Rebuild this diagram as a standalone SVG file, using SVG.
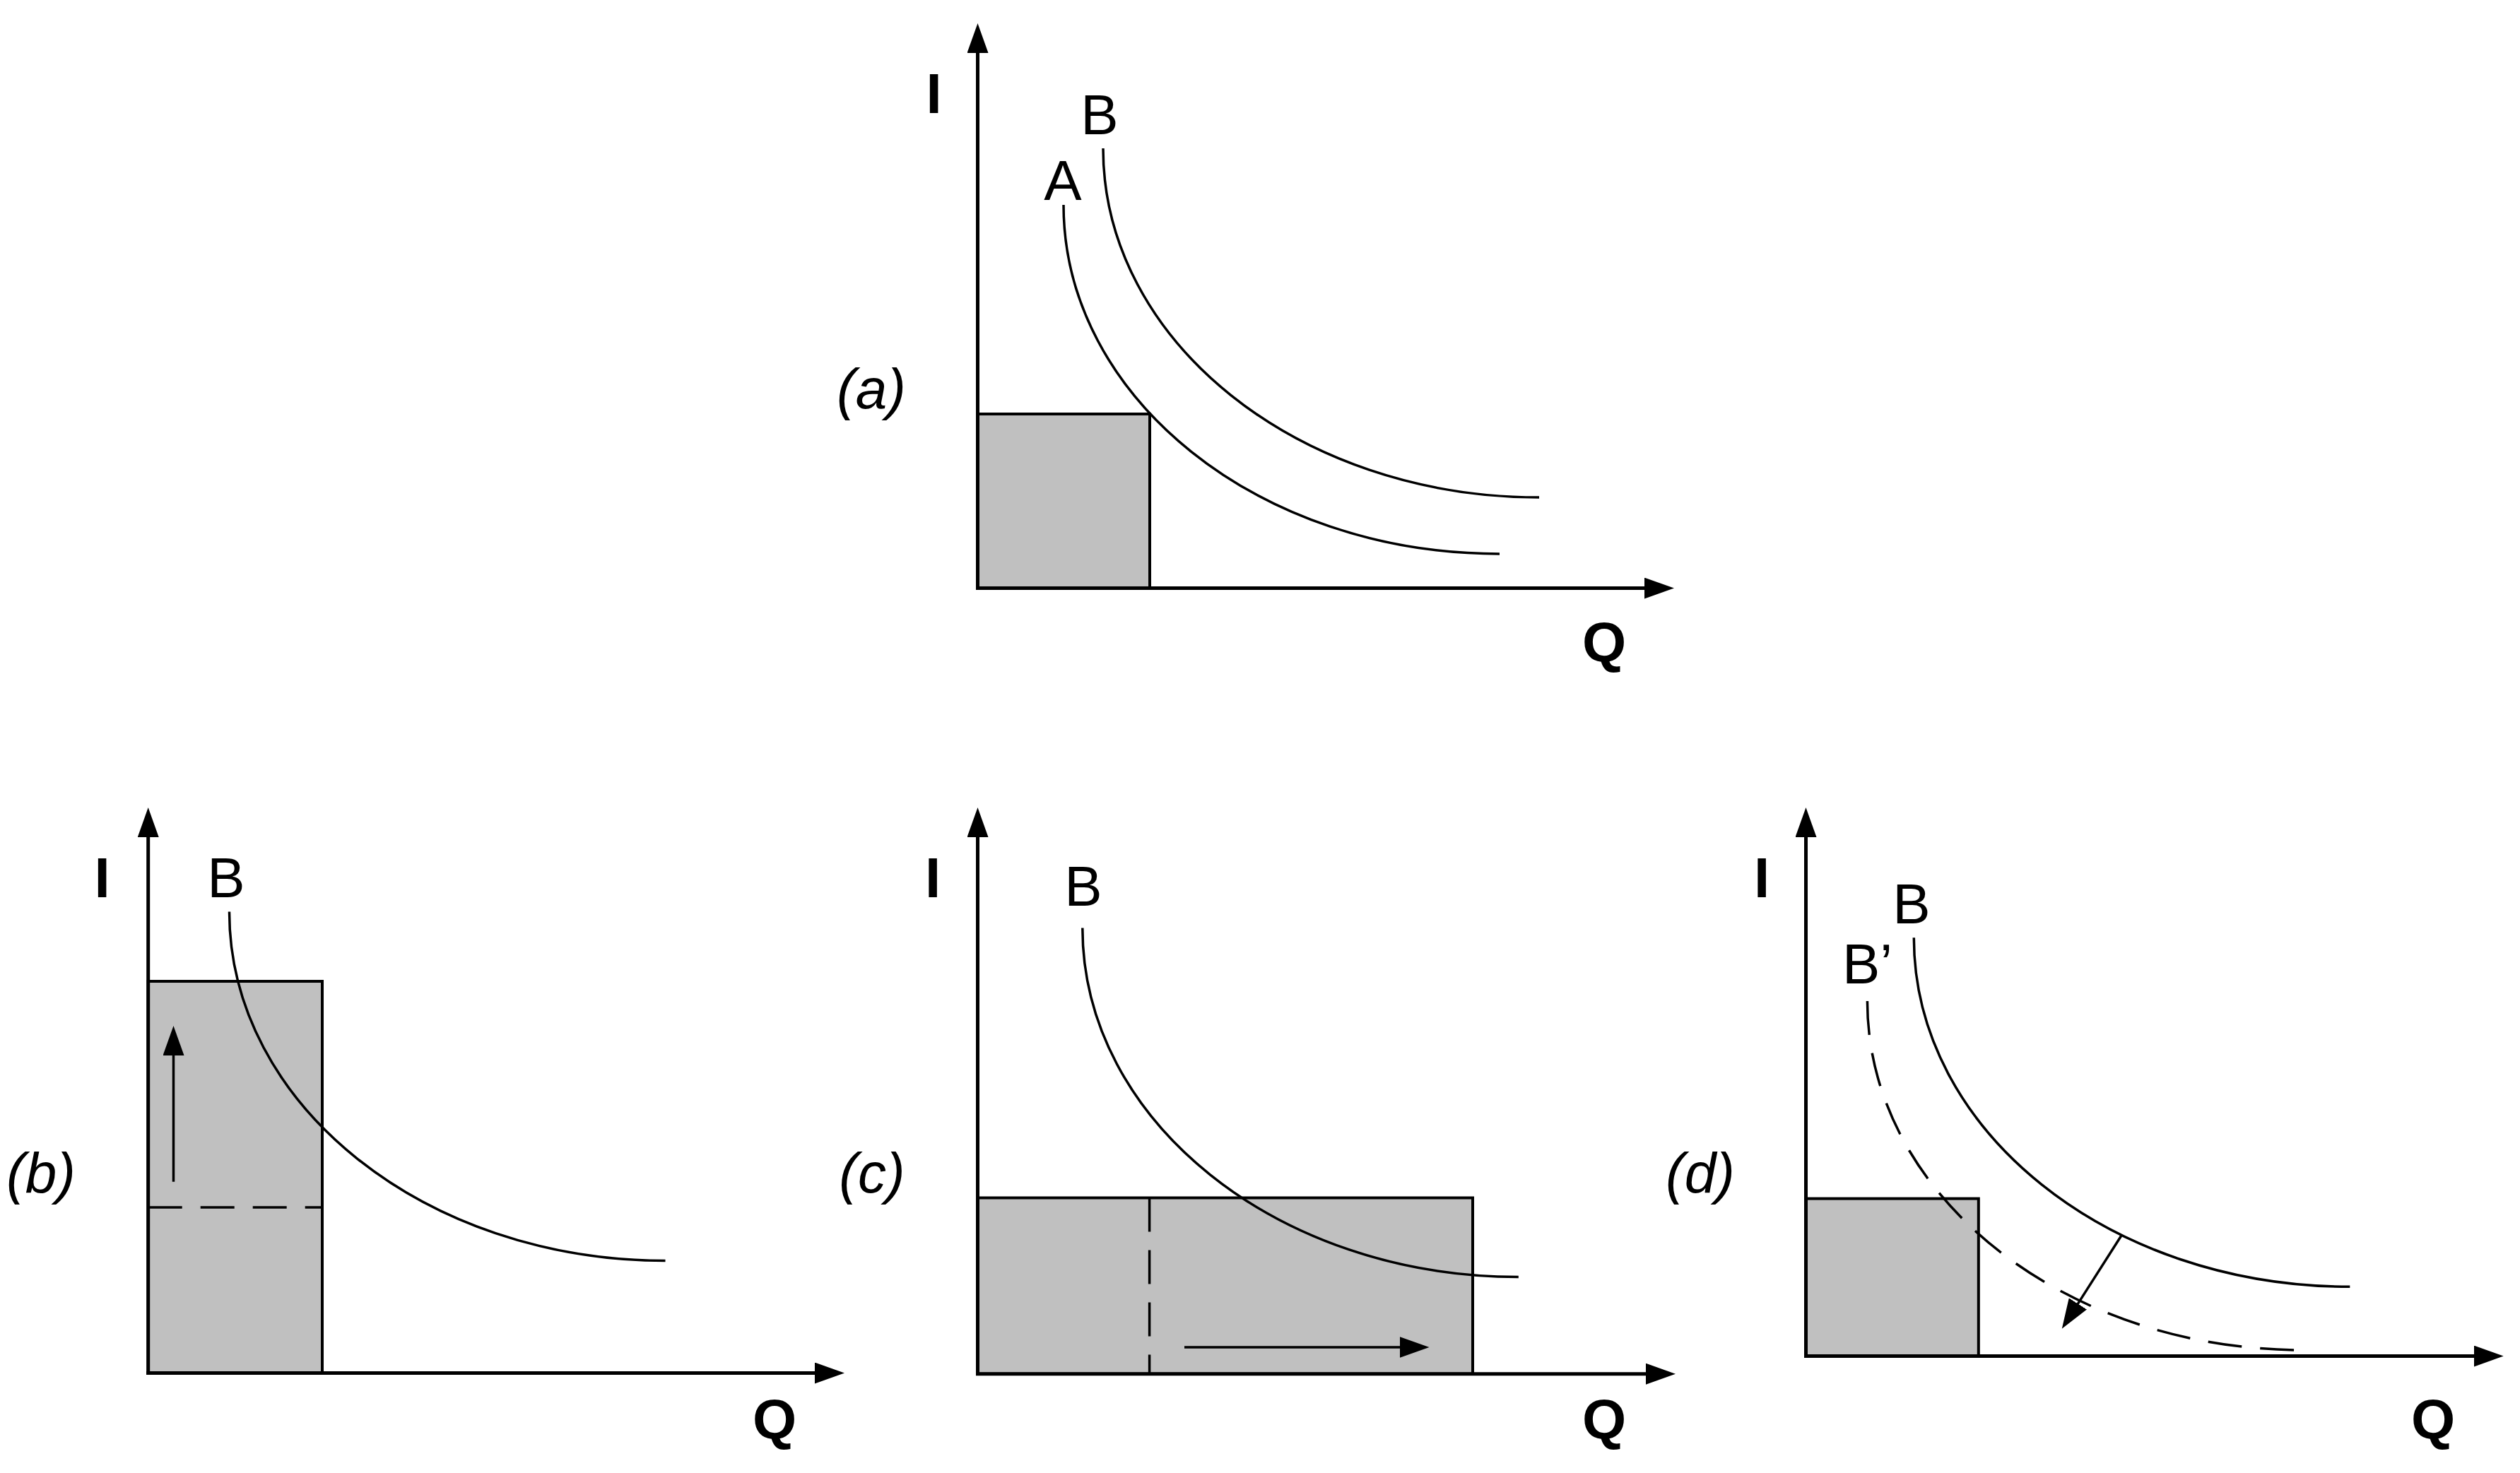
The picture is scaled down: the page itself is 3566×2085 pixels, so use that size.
<svg xmlns="http://www.w3.org/2000/svg" width="3566" height="2085" viewBox="0 0 3566 2085">
<style>
.bg{fill:#ffffff}
.box{fill:#c0c0c0;stroke:#000;stroke-width:4}
.axis{fill:none;stroke:#000;stroke-width:5;marker-end:url(#ah)}
.curve{fill:none;stroke:#000;stroke-width:3.5}
.dash{fill:none;stroke:#000;stroke-width:3.5;stroke-dasharray:48 26}
.arr{fill:none;stroke:#000;stroke-width:3.5;marker-end:url(#ah)}
text{font-family:"Liberation Sans",Arial,sans-serif;font-size:80px;fill:#000}
.ax{font-weight:bold;text-anchor:middle}
.cv{text-anchor:middle}
.pl{font-style:italic;text-anchor:middle}
</style>
<defs>
<marker id="ah" markerUnits="userSpaceOnUse" viewBox="0 0 42 30" markerWidth="42" markerHeight="30" refX="2" refY="15" orient="auto">
<path d="M0,0 L42,15 L0,30 z" fill="#000"/>
</marker>
</defs>
<rect class="bg" x="0" y="0" width="3566" height="2085"/>

<g id="panel-a">
<rect class="box" x="1383.5" y="586" width="243.5" height="246.6"/>
<path class="curve" d="M1505,290 C1505,562.8 1781.2,784 2122,784"/>
<path class="curve" d="M1561,210 C1561,482.8 1837.2,704 2178,704"/>
<line class="axis" x1="1383.5" y1="835" x2="1383.5" y2="73"/>
<line class="axis" x1="1381" y1="832.6" x2="2329" y2="832.6"/>
<text class="ax" x="1321.5" y="160">I</text>
<text class="cv" x="1556" y="190">B</text>
<text class="cv" x="1504" y="283">A</text>
<text class="pl" x="1233" y="578">(a)</text>
<text class="ax" x="2270" y="936">Q</text>
</g>

<g id="panel-b">
<rect class="box" x="209.7" y="1389" width="246.3" height="554.5"/>
<line class="dash" x1="209.7" y1="1709" x2="456" y2="1709"/>
<path class="curve" d="M324.5,1290.5 C324.5,1563.3 600.7,1784.5 941.5,1784.5"/>
<line class="arr" x1="245.5" y1="1672.7" x2="245.5" y2="1492"/>
<line class="axis" x1="209.7" y1="1946" x2="209.7" y2="1183"/>
<line class="axis" x1="207.2" y1="1943.5" x2="1155" y2="1943.5"/>
<text class="ax" x="144.5" y="1270">I</text>
<text class="cv" x="320" y="1270">B</text>
<text class="pl" x="58" y="1688">(b)</text>
<text class="ax" x="1096" y="2036">Q</text>
</g>

<g id="panel-c">
<rect class="box" x="1383.5" y="1695.5" width="700.5" height="249.2"/>
<line class="dash" x1="1626.6" y1="1695.5" x2="1626.6" y2="1944.7"/>
<path class="curve" d="M1531.8,1313.5 C1531.8,1586.3 1808,1807.5 2148.8,1807.5"/>
<line class="arr" x1="1676" y1="1907" x2="1982.5" y2="1907"/>
<line class="axis" x1="1383.5" y1="1947" x2="1383.5" y2="1183"/>
<line class="axis" x1="1381" y1="1944.7" x2="2331" y2="1944.7"/>
<text class="ax" x="1320" y="1270">I</text>
<text class="cv" x="1533" y="1282">B</text>
<text class="pl" x="1234" y="1688">(c)</text>
<text class="ax" x="2270" y="2036">Q</text>
</g>

<g id="panel-d">
<rect class="box" x="2555.5" y="1696.6" width="244.3" height="222.9"/>
<path class="dash" d="M2642.4,1417 C2642.4,1689.8 2918.6,1911 3259.4,1911"/>
<path class="curve" d="M2708.3,1327.3 C2708.3,1600.1 2984.5,1821.3 3325.3,1821.3"/>
<line class="arr" x1="3001.7" y1="1749.3" x2="2939.3" y2="1847.1"/>
<line class="axis" x1="2555.5" y1="1922" x2="2555.5" y2="1183"/>
<line class="axis" x1="2553" y1="1919.5" x2="3502.7" y2="1919.5"/>
<text class="ax" x="2493" y="1270">I</text>
<text class="cv" x="2705" y="1307">B</text>
<text x="2607" y="1392">B’</text>
<text class="pl" x="2406" y="1688">(d)</text>
<text class="ax" x="3443" y="2036">Q</text>
</g>
</svg>
